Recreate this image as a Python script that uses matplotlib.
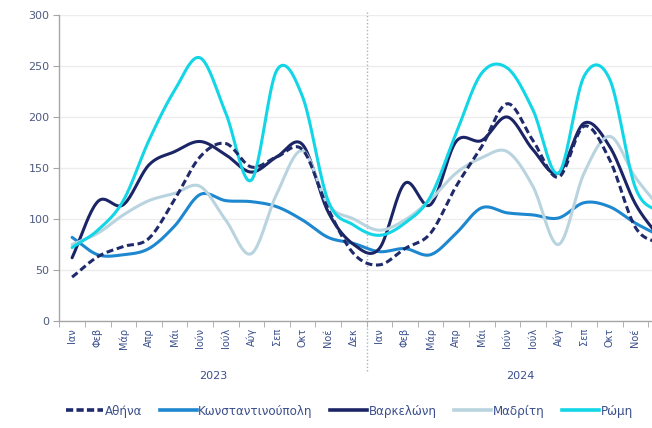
import numpy as np
import matplotlib
matplotlib.use("Agg")
import matplotlib.pyplot as plt
from matplotlib.lines import Line2D

months = ["Ιαν", "Φεβ", "Μάρ", "Απρ", "Μάι", "Ιούν", "Ιούλ", "Αύγ", "Σεπ", "Οκτ", "Νοέ", "Δεκ"]
years = ["2023", "2024"]
categories = months * 2

athens = [43, 63, 73, 81, 119, 161, 174, 151, 161, 168, 110, 66,
          55, 71, 86, 132, 171, 213, 177, 141, 191, 158, 92, 75]
istanbul = [82, 65, 65, 71, 93, 124, 118, 117, 112, 99, 82, 76,
            68, 71, 65, 86, 111, 106, 104, 101, 116, 112, 96, 83]
barcelona = [62, 117, 114, 153, 166, 176, 163, 146, 161, 173, 107, 75,
             71, 135, 114, 176, 177, 200, 168, 145, 194, 171, 115, 80]
madrid = [75, 86, 104, 118, 125, 132, 99, 66, 125, 167, 114, 100,
          89, 99, 119, 145, 160, 166, 132, 75, 145, 181, 141, 110]
rome = [72, 89, 118, 177, 226, 258, 204, 138, 246, 220, 118, 94,
        84, 96, 122, 184, 243, 248, 207, 145, 240, 237, 131, 105]

series = [
    ("Αθήνα", athens, "#1f2a6b", "--"),
    ("Κωνσταντινούπολη", istanbul, "#1d87cf", "-"),
    ("Βαρκελώνη", barcelona, "#1b2566", "-"),
    ("Μαδρίτη", madrid, "#b9d4df", "-"),
    ("Ρώμη", rome, "#12d6e6", "-"),
]


def smooth(y, n=20):
    """Catmull-Rom style smoothing similar to spreadsheet 'smoothed line'."""
    y = np.asarray(y, float)
    x = np.arange(len(y), dtype=float)
    px = np.concatenate([[2 * x[0] - x[1]], x, [2 * x[-1] - x[-2]]])
    py = np.concatenate([[2 * y[0] - y[1]], y, [2 * y[-1] - y[-2]]])
    xs, ys = [], []
    t = np.linspace(0, 1, n, endpoint=False)
    for i in range(1, len(px) - 2):
        p0, p1, p2, p3 = (np.array([px[j], py[j]]) for j in range(i - 1, i + 3))
        c1 = p1 + (p2 - p0) / 6.0
        c2 = p2 - (p3 - p1) / 6.0
        b = ((1 - t) ** 3)[:, None] * p1 + (3 * (1 - t) ** 2 * t)[:, None] * c1 \
            + (3 * (1 - t) * t ** 2)[:, None] * c2 + (t ** 3)[:, None] * p2
        xs.append(b[:, 0]); ys.append(b[:, 1])
    xs.append([x[-1]]); ys.append([y[-1]])
    return np.concatenate(xs), np.concatenate(ys)


W, H = 652, 428
fig = plt.figure(figsize=(W / 100, H / 100), dpi=100)
left_px, right_px, top_px, bottom_px = 59.3, 673.7, 15, 321
ax = fig.add_axes([left_px / W, 1 - bottom_px / H, (right_px - left_px) / W, (bottom_px - top_px) / H])

handles = []
for name, vals, col, ls in series:
    sx, sy = smooth(vals)
    if ls == "--":
        ax.plot(sx, sy, color=col, lw=2.2, dashes=(2.3, 1.2), zorder=4)
    else:
        ax.plot(sx, sy, color=col, lw=2.2, solid_capstyle="round", zorder=3)
    h = Line2D([], [], color=col, lw=2.6, dashes=(2.0, 0.9) if ls == "--" else (None, None))
    handles.append((h, name))

n = len(categories)
ax.set_xlim(-0.5, n - 0.5)
ax.set_ylim(0, 300)
ax.set_yticks(np.arange(0, 301, 50))
ax.yaxis.grid(True, color="#ececec", lw=1)
ax.set_axisbelow(True)
for s in ["top", "right"]:
    ax.spines[s].set_visible(False)
for s in ["left", "bottom"]:
    ax.spines[s].set_color("#a6a6a6")
    ax.spines[s].set_linewidth(1)

ax.set_xticks(np.arange(n))
ax.set_xticklabels(categories, rotation=90, fontsize=7, color="#3a4f8c")
ax.tick_params(axis="x", which="major", length=0, pad=5)
ax.set_xticks(np.arange(-0.5, n, 1), minor=True)
ax.tick_params(axis="x", which="minor", length=4, color="#a6a6a6", direction="out")
ax.tick_params(axis="y", length=4, color="#a6a6a6", labelsize=8, labelcolor="#4f5a80", pad=3)

# year labels and divider
for i, yr in enumerate(years):
    ax.text(i * 12 + 5.5, -0.18, yr, transform=ax.get_xaxis_transform(), ha="center", va="center",
            fontsize=8, color="#3a4f8c")
ax.plot([11.5, 11.5], [1.01, -0.168], transform=ax.get_xaxis_transform(), clip_on=False,
        color="#9fb6cc", lw=1, ls=(0, (1, 1.5)), zorder=1)

leg = fig.legend([h for h, _ in handles], [nm for _, nm in handles], loc="center left",
                 bbox_to_anchor=(66 / W, 1 - 411 / H), ncol=5, frameon=False, fontsize=8.6,
                 handlelength=3.1, handletextpad=0.15, columnspacing=1.45, borderpad=0,
                 borderaxespad=0)
for t in leg.get_texts():
    t.set_color("#3a4f8c")

fig.savefig("out.png", dpi=100)
